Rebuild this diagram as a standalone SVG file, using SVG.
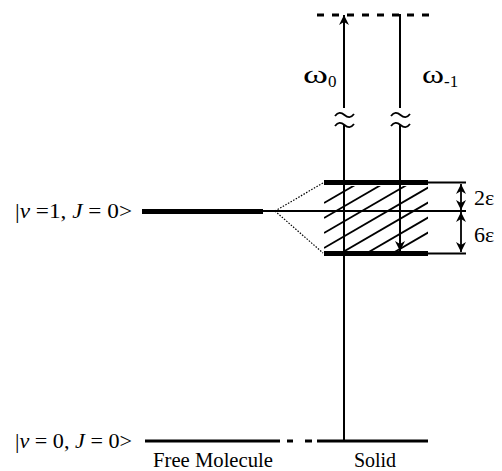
<svg xmlns="http://www.w3.org/2000/svg" width="502" height="471" viewBox="0 0 502 471">
<style>
.t{font-family:"Liberation Serif","Times New Roman",serif;font-size:20px;fill:#000}
.w{font-family:"Liberation Serif","Times New Roman",serif;font-size:25px;fill:#000}
.s{font-family:"Liberation Serif","Times New Roman",serif;font-size:17px;fill:#000}
.thin{stroke:#000;stroke-width:2;fill:none}
.thick{stroke:#000;stroke-width:5;fill:none}
.h{stroke:#000;stroke-width:1.8}
.dot{stroke:#000;stroke-width:1.2;stroke-dasharray:1.5,1.5;fill:none}
.tl{stroke:#000;stroke-width:1.8;fill:none}
</style>
<defs>
<marker id="ah" viewBox="0 0 10 10" refX="10" refY="5" markerWidth="10" markerHeight="10" markerUnits="userSpaceOnUse" orient="auto">
<path d="M0,0 L10,5 L0,10 L3,5 Z" fill="#000"/>
</marker>
<marker id="ahs" viewBox="0 0 10 10" refX="0" refY="5" markerWidth="10" markerHeight="10" markerUnits="userSpaceOnUse" orient="auto">
<path d="M10,0 L0,5 L10,10 L7,5 Z" fill="#000"/>
</marker>
<clipPath id="hc"><rect x="324" y="186" width="104" height="65"/></clipPath>
</defs>
<rect width="502" height="471" fill="#fff"/>
<g id="free-v1">
<line class="thick" x1="142" y1="211.5" x2="263" y2="211.5"/>
<text class="t" x="15" y="218" textLength="117" lengthAdjust="spacingAndGlyphs">|<tspan font-style="italic">v</tspan> =1, <tspan font-style="italic">J</tspan> = 0&gt;</text>
</g>
<g id="ground">
<line x1="145" y1="441" x2="280" y2="441" stroke="#000" stroke-width="3"/>
<line x1="287" y1="441" x2="293" y2="441" stroke="#000" stroke-width="3"/>
<line x1="305" y1="441" x2="312" y2="441" stroke="#000" stroke-width="3"/>
<line x1="317" y1="441" x2="428" y2="441" stroke="#000" stroke-width="3"/>
<text class="t" x="15" y="448" textLength="117" lengthAdjust="spacingAndGlyphs">|<tspan font-style="italic">v</tspan> = 0, <tspan font-style="italic">J</tspan> = 0&gt;</text>
<text class="t" x="213" y="467" text-anchor="middle" textLength="120" lengthAdjust="spacingAndGlyphs">Free Molecule</text>
<text class="t" x="375" y="467" text-anchor="middle">Solid</text>
</g>
<g id="virtual">
<line x1="317" y1="15" x2="430" y2="15" stroke="#000" stroke-width="3" stroke-dasharray="7,8"/>
</g>
<g id="band">
<g clip-path="url(#hc)">
<line class="h" x1="324" y1="203" x2="430" y2="141.5"/>
<line class="h" x1="324" y1="218" x2="430" y2="156.5"/>
<line class="h" x1="324" y1="233" x2="430" y2="171.5"/>
<line class="h" x1="324" y1="248" x2="430" y2="186.5"/>
<line class="h" x1="324" y1="263" x2="430" y2="201.5"/>
<line class="h" x1="324" y1="278" x2="430" y2="216.5"/>
<line class="h" x1="324" y1="293" x2="430" y2="231.5"/>
</g>
<line class="thick" x1="324" y1="182.5" x2="428" y2="182.5"/>
<line class="thick" x1="324" y1="253.5" x2="428" y2="253.5"/>
<line x1="428" y1="182.5" x2="466" y2="182.5" stroke="#000" stroke-width="1.8"/>
<line x1="428" y1="253.5" x2="466" y2="253.5" stroke="#000" stroke-width="1.8"/>
<line x1="263" y1="211" x2="466" y2="211" stroke="#000" stroke-width="2.2"/>
<text class="t" x="474" y="205" style="font-size:22px">2ε</text>
<text class="t" x="474" y="242" style="font-size:22px">6ε</text>
</g>
<g id="connectors">
<line class="dot" x1="275" y1="211" x2="323" y2="183"/>
<line class="dot" x1="275" y1="211" x2="323" y2="253"/>
<line class="thin" x1="344" y1="441" x2="344" y2="125"/>
<line class="thin" x1="344" y1="108" x2="344" y2="15" marker-end="url(#ah)"/>
<path class="tl" d="M335,116 c3,-4 6,-4 9.5,-1 c3.5,3 6.5,3 9.5,-1"/>
<path class="tl" d="M335,126 c3,-4 6,-4 9.5,-1 c3.5,3 6.5,3 9.5,-1"/>
<line class="thin" x1="400" y1="14" x2="400" y2="108"/>
<line class="thin" x1="400" y1="125" x2="400" y2="251" marker-end="url(#ah)"/>
<path class="tl" d="M391,116 c3,-4 6,-4 9.5,-1 c3.5,3 6.5,3 9.5,-1"/>
<path class="tl" d="M391,126 c3,-4 6,-4 9.5,-1 c3.5,3 6.5,3 9.5,-1"/>
<line x1="461" y1="184" x2="461" y2="210" stroke="#000" stroke-width="1.8" marker-start="url(#ahs)" marker-end="url(#ah)"/>
<line x1="461" y1="212" x2="461" y2="252" stroke="#000" stroke-width="1.8" marker-start="url(#ahs)" marker-end="url(#ah)"/>
<text class="w" x="303" y="83" textLength="25" lengthAdjust="spacingAndGlyphs">ω</text>
<text class="s" x="328" y="87">0</text>
<text class="w" x="422" y="83" textLength="22" lengthAdjust="spacingAndGlyphs">ω</text>
<text class="s" x="444" y="87">-1</text>
</g>
</svg>
